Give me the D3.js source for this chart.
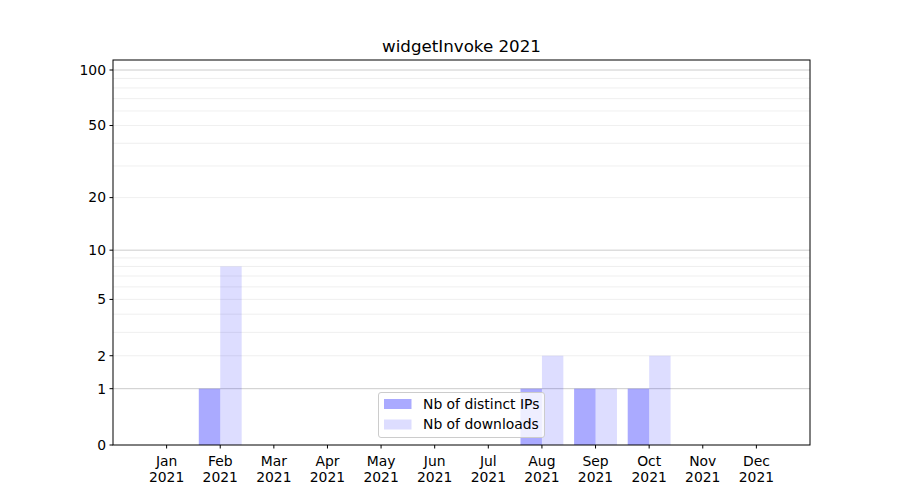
<!DOCTYPE html>
<html><head><meta charset="utf-8">
<script src="https://cdn.jsdelivr.net/npm/d3@7"></script>
<style>body{margin:0;background:#fff;} text{font-family:"DejaVu Sans",sans-serif;}</style>
</head><body>
<svg id="c" width="900" height="500"></svg>
<script>
const months = ["Jan","Feb","Mar","Apr","May","Jun","Jul","Aug","Sep","Oct","Nov","Dec"];
const year = "2021";
const distinctIPs = [0,1,0,0,0,0,0,1,1,1,0,0];
const downloads = [0,8,0,0,0,0,0,2,1,2,0,0];
const yTicks = [0,1,2,5,10,20,50,100];
const yMajorGrid = [1,10,100];
const yMinorGrid = [2,3,4,5,6,7,8,9,20,30,40,50,60,70,80,90];
const title = "widgetInvoke 2021";
const seriesNames = ["Nb of distinct IPs","Nb of downloads"];

const svg = d3.select("#c");
const L=113, R=810, T=60, B=445;
const x = d3.scaleLinear().domain([-1,12]).range([L,R]);
const f = v => Math.log10(v+1);
const yMaxT = (B-T)/ (375/Math.log10(101));
const y = d3.scaleLinear().domain([0, yMaxT]).range([B,T]);
const Y = v => y(f(v));
const bw = x(0.4)-x(0);
const fs = 13.9;

// gridlines
svg.append("g").selectAll("line").data(yMinorGrid).join("line")
  .attr("x1",L).attr("x2",R).attr("y1",d=>Y(d)).attr("y2",d=>Y(d))
  .attr("stroke","#ebebeb").attr("stroke-width",0.8);
svg.append("g").selectAll("line").data(yMajorGrid).join("line")
  .attr("x1",L).attr("x2",R).attr("y1",d=>Y(d)).attr("y2",d=>Y(d))
  .attr("stroke","#cccccc").attr("stroke-width",1);

// bars
const gb = svg.append("g");
gb.selectAll(".ip").data(distinctIPs).join("rect").attr("class","ip")
  .attr("x",(d,i)=>x(i)-bw).attr("width",bw)
  .attr("y",d=>Y(d)).attr("height",d=>B-Y(d))
  .attr("fill","#0000ff").attr("fill-opacity",0.333);
gb.selectAll(".dl").data(downloads).join("rect").attr("class","dl")
  .attr("x",(d,i)=>x(i)).attr("width",bw)
  .attr("y",d=>Y(d)).attr("height",d=>B-Y(d))
  .attr("fill","#0000ff").attr("fill-opacity",0.135);

// frame
svg.append("rect").attr("x",L).attr("y",T).attr("width",R-L).attr("height",B-T)
  .attr("fill","none").attr("stroke","#000").attr("stroke-width",1);

// y axis
const ya = svg.append("g");
ya.selectAll("line").data(yTicks).join("line")
  .attr("x1",L-3.5).attr("x2",L).attr("y1",d=>Y(d)).attr("y2",d=>Y(d)).attr("stroke","#000");
ya.selectAll("text").data(yTicks).join("text")
  .attr("x",L-7).attr("y",d=>Y(d)).attr("dy","0.35em").attr("text-anchor","end")
  .attr("font-size",fs).text(d=>d);

// x axis
const xa = svg.append("g");
xa.selectAll("line").data(months).join("line")
  .attr("x1",(d,i)=>x(i)).attr("x2",(d,i)=>x(i)).attr("y1",B).attr("y2",B+3.5).attr("stroke","#000");
const xt = xa.selectAll("text").data(months).join("text")
  .attr("text-anchor","middle").attr("font-size",fs);
xt.append("tspan").attr("x",(d,i)=>x(i)).attr("y",B+21).text(d=>d);
xt.append("tspan").attr("x",(d,i)=>x(i)).attr("y",B+37).text(year);

// title
svg.append("text").attr("x",(L+R)/2).attr("y",T-8).attr("text-anchor","middle")
  .attr("font-size",16.7).text(title);

// legend
const lg = svg.append("g");
lg.append("rect").attr("x",378.5).attr("y",392.5).attr("width",166).attr("height",45).attr("rx",2.5)
  .attr("fill","#fff").attr("fill-opacity",0.8).attr("stroke","#cccccc");
const lcols = [0.333,0.135];
seriesNames.forEach((n,i)=>{
  lg.append("rect").attr("x",384).attr("y",399+i*20.5).attr("width",27.5).attr("height",10)
    .attr("fill","#0000ff").attr("fill-opacity",lcols[i]);
  lg.append("text").attr("x",423).attr("y",404+i*20.5).attr("dy","0.35em").attr("font-size",fs).text(n);
});
</script>
</body></html>
